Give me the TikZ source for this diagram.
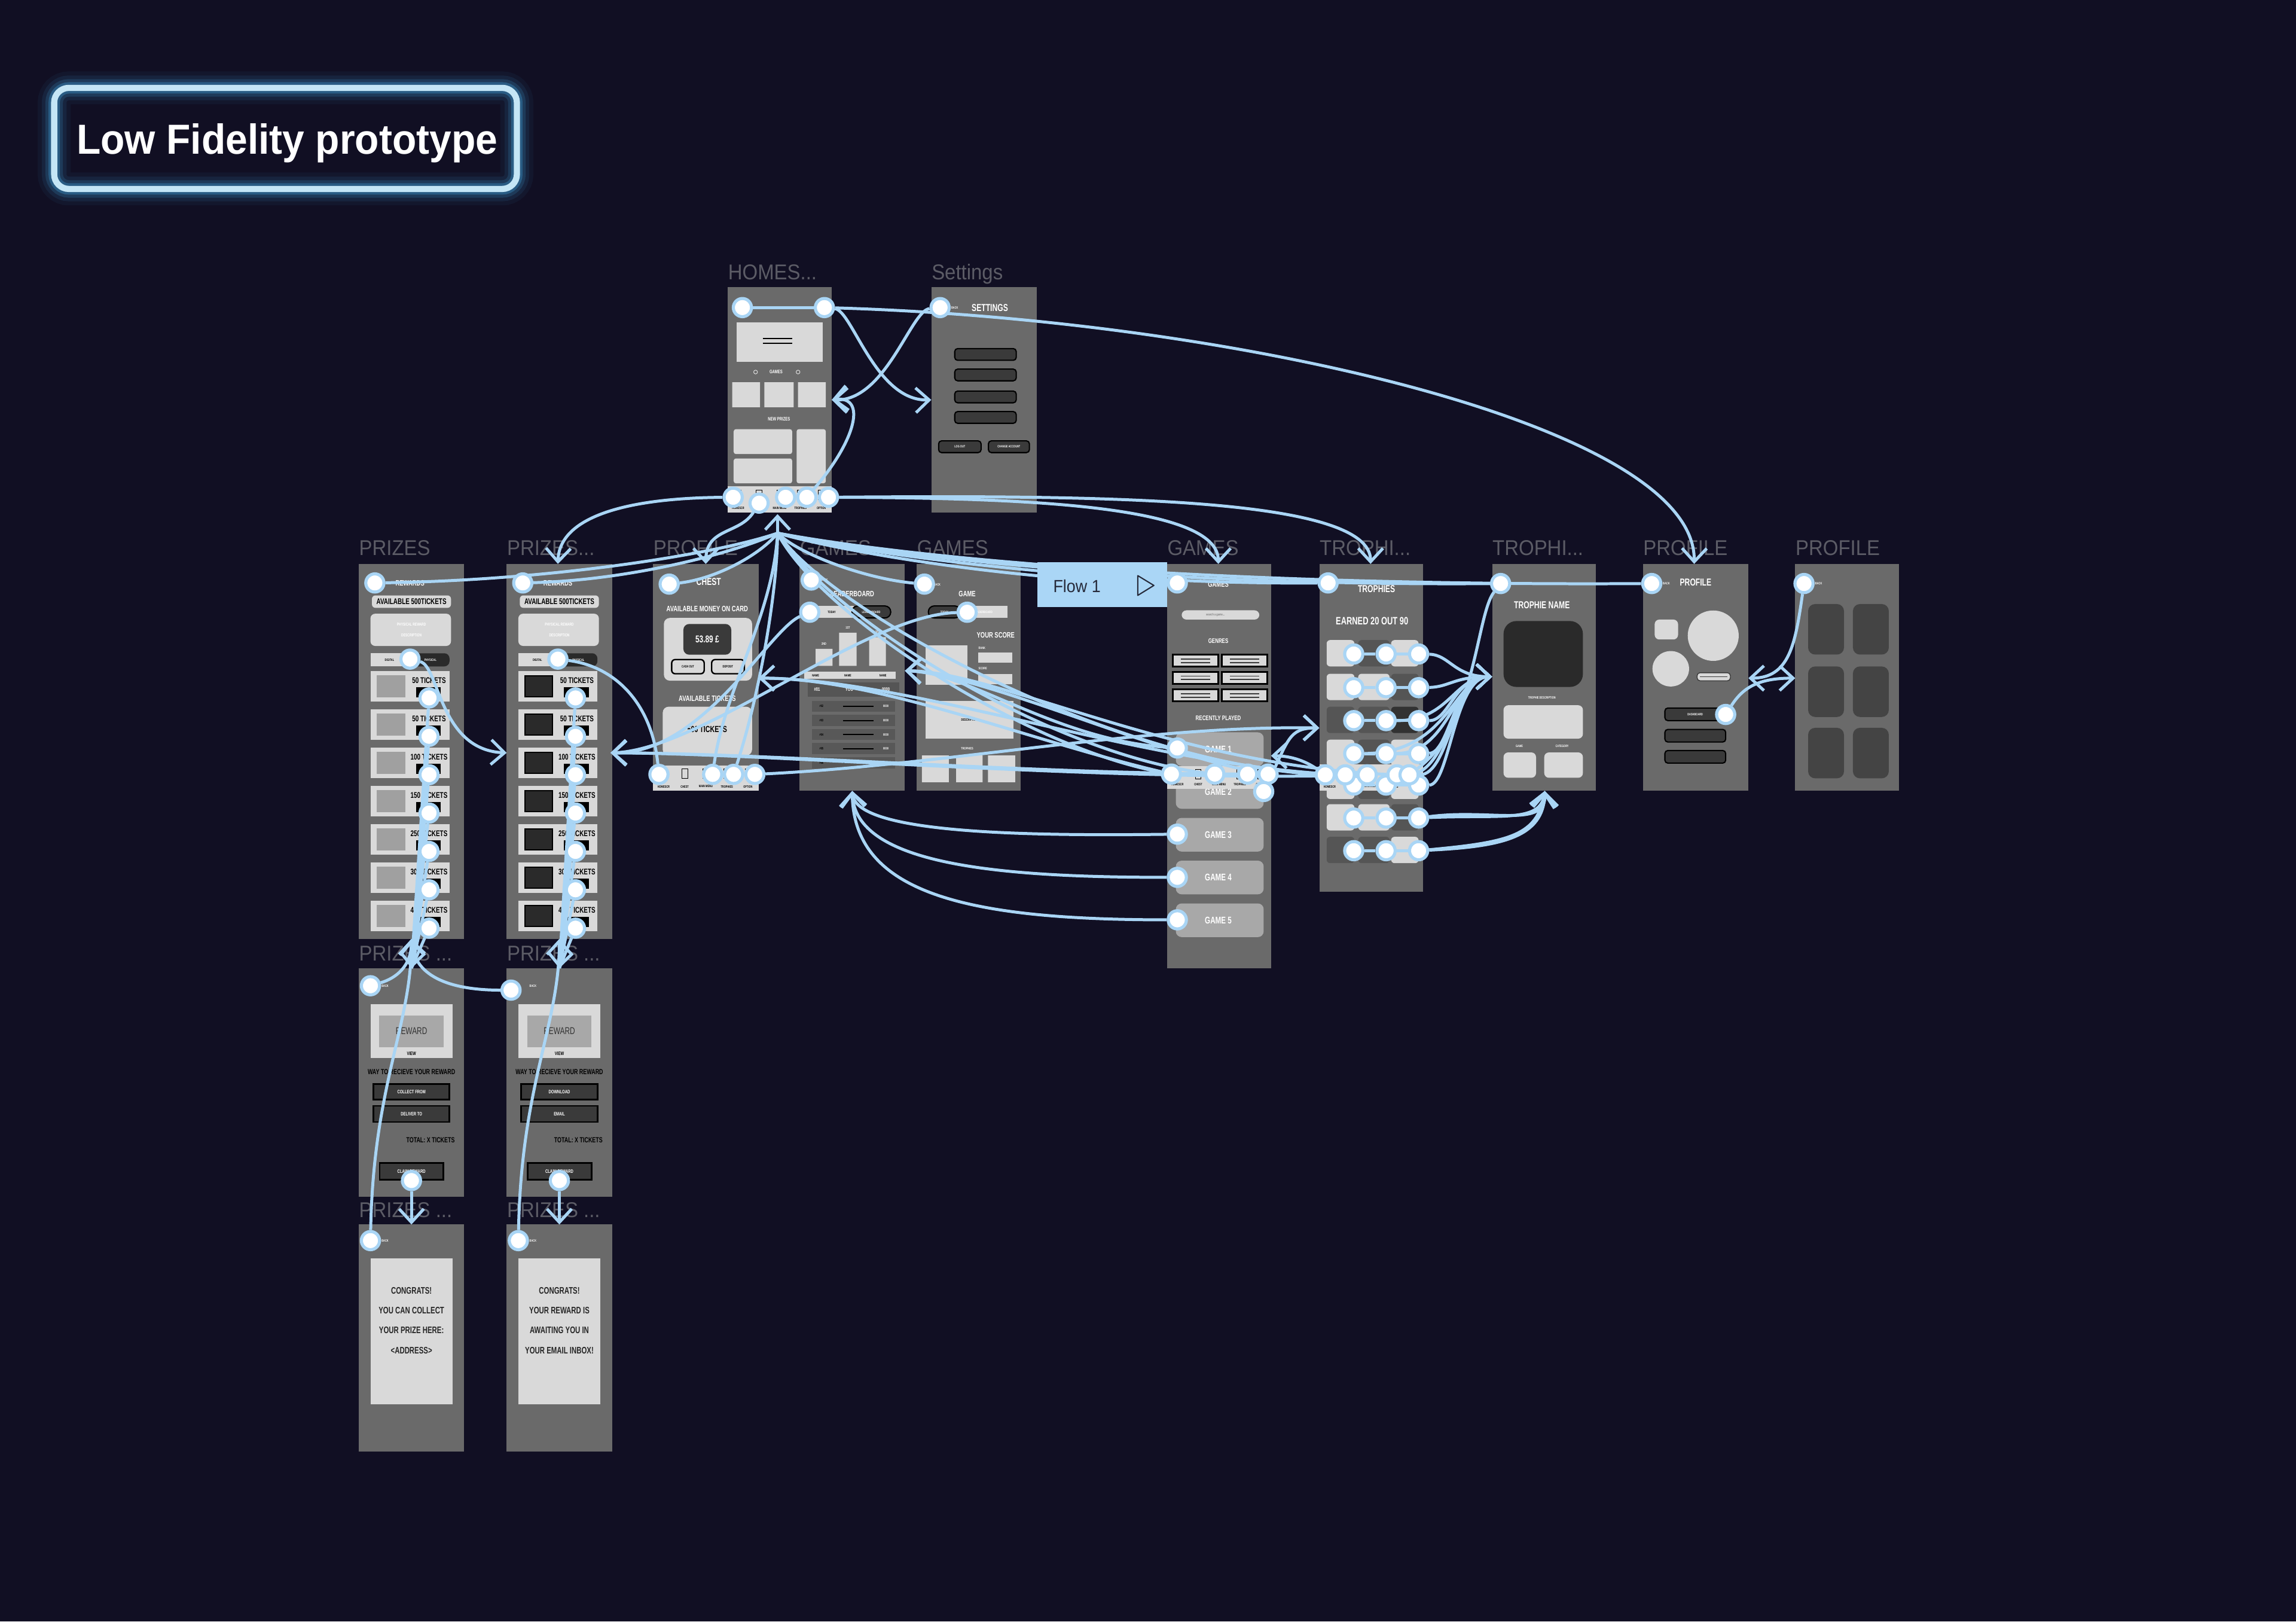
\documentclass[tikz,border=0pt]{standalone}
\usepackage{fontspec}
\setmainfont{Liberation Sans}
\newfontfamily\lblf[FakeStretch=0.92]{Liberation Sans}
\newfontfamily\cf[FakeStretch=0.72]{Liberation Sans}
\newfontfamily\titlef[FakeStretch=0.94]{Liberation Sans}
\usetikzlibrary{arrows.meta}
\pgfdeclarelayer{connl}
\pgfdeclarelayer{dotl}
\pgfdeclarelayer{topl}
\pgfsetlayers{main,connl,dotl,topl}
\definecolor{bg}{RGB}{17,15,35}
\definecolor{frameg}{RGB}{106,106,106}
\definecolor{lightg}{RGB}{217,217,217}
\definecolor{midg}{RGB}{168,168,168}
\definecolor{prsq}{RGB}{160,160,160}
\definecolor{darkg}{RGB}{58,58,58}
\definecolor{sqdark}{RGB}{42,42,42}
\definecolor{tiled}{RGB}{85,85,85}
\definecolor{tiledd}{RGB}{50,50,50}
\definecolor{rowg}{RGB}{88,88,88}
\definecolor{tileprof}{RGB}{68,68,68}
\definecolor{connc}{RGB}{169,213,245}
\definecolor{lblc}{RGB}{92,92,102}
\definecolor{ringc}{RGB}{196,230,246}
\definecolor{glowc}{RGB}{64,158,214}
\definecolor{flowc}{RGB}{170,214,246}
\definecolor{flowt}{RGB}{38,42,58}
\tikzset{
 frm/.style={fill=frameg},
 lbl/.style={anchor=base west, inner sep=0, text=lblc, font=\lblf\fontsize{10.4}{12}\selectfont},
 tA/.style={inner sep=0, text=white, font=\cf\bfseries\fontsize{4.9}{5.5}\selectfont},
 tB/.style={inner sep=0, text=white, font=\cf\bfseries\fontsize{3.8}{4.2}\selectfont},
 tC/.style={inner sep=0, text=black, font=\cf\bfseries\fontsize{4}{4.4}\selectfont},
 tD/.style={inner sep=0, text=white, font=\cf\bfseries\fontsize{1.6}{1.8}\selectfont},
 tE/.style={inner sep=0, text=white, font=\cf\bfseries\fontsize{2.4}{2.8}\selectfont},
 conn/.style={draw=connc, line width=1.45pt},
 arr/.style={conn, -{Straight Barb[length=6.5pt,width=12pt]}},
 dot/.style={circle, fill=white, draw=connc, line width=1.5pt, minimum size=3.1mm, inner sep=0pt},
 btn/.style={fill=darkg, draw=black, line width=0.6pt, rounded corners=0.5mm},
}
\newcommand\navbar[4]{%
  \fill[lightg] (#1,#2) rectangle (#3,#4);
  \foreach \k/\lab in {0.1/HOMESCR,0.3/CHEST,0.5/MAIN MENU,0.7/TROPHIES,0.9/OPTION}{%
    \pgfmathsetmacro\nx{#1+\k*(#3-#1)}
    \draw[black, line width=0.3pt] (\nx-2,#2+2.5) rectangle (\nx+2,#2+9);
    \node[tD, text=black] at (\nx,#4-3) {\lab};
  }%
}
\begin{document}
\begin{tikzpicture}[x=0.25mm,y=-0.25mm]
\useasboundingbox (0,0) rectangle (1568,1107);
\fill[bg] (0,0) rectangle (1568,1107);

% ---------- frame labels
\node[lbl] (lHomes) at (497,191) {HOMES...};
\node[lbl] (lSet) at (636,191) {Settings};
\node[lbl] (lPr1) at (245,379) {PRIZES};
\node[lbl] (lPr2) at (346,379) {PRIZES...};
\node[lbl] (lProf) at (446,379) {PROFILE};
\node[lbl] (lGam1) at (546,379) {GAMES};
\node[lbl] (lGam2) at (626,379) {GAMES};
\node[lbl] (lGam3) at (797,379) {GAMES};
\node[lbl] (lTro1) at (901,379) {TROPHI...};
\node[lbl] (lTro2) at (1019,379) {TROPHI...};
\node[lbl] (lPro2) at (1122,379) {PROFILE};
\node[lbl] (lPro3) at (1226,379) {PROFILE};
\node[lbl] (lPr3a) at (245,656) {PRIZES ...};
\node[lbl] (lPr3b) at (346,656) {PRIZES ...};
\node[lbl] (lPr4a) at (245,831) {PRIZES ...};
\node[lbl] (lPr4b) at (346,831) {PRIZES ...};

% ---------- HOMES
\fill[frm] (497,196) rectangle (568,350);
\fill[lightg] (503,220) rectangle (562,247);
\draw[black, line width=0.5pt] (521,231) -- (541,231) (521,234.5) -- (541,234.5);
\node[tE] (hGames) at (530,254) {GAMES};
\draw[lightg, line width=0.3pt] (516,254) circle (1.3) (545,254) circle (1.3);
\fill[lightg] (500,261) rectangle (519,278) (522,261) rectangle (542,278) (545,261) rectangle (564,278);
\node[tE] (hNew) at (532,286) {NEW PRIZES};
\fill[lightg, rounded corners=0.4mm] (501,293) rectangle (541,310);
\fill[lightg, rounded corners=0.4mm] (501,313) rectangle (541,330);
\fill[lightg, rounded corners=0.4mm] (544,293) rectangle (564,330);
\navbar{497}{332}{568}{350}

% ---------- Settings
\fill[frm] (636,196) rectangle (708,350);
\node[tA] (sTitle) at (676,210) {SETTINGS};
\node[tD] (sBack) at (652,210) {BACK};
\foreach \y in {238,252,267,281} \draw[btn] (652,\y) rectangle (694,\y+8);
\draw[btn] (641,301) rectangle (670,309);
\draw[btn] (675,301) rectangle (703,309);
\node[tD] (sLog) at (655.5,305) {LOG OUT};
\node[tD] (sChg) at (689,305) {CHANGE ACCOUNT};

% ---------- PRIZES (two columns)
\foreach \dx/\sqc/\sqd in {0/prsq/prsq,101/sqdark/black}{
  \fill[frm] (245+\dx,385) rectangle (317+\dx,641);
  \node[tB] at (280+\dx,398) {REWARDS};
  \fill[lightg, rounded corners=0.6mm] (254+\dx,406.5) rectangle (308+\dx,415);
  \node[tC] at (281+\dx,410.8) {AVAILABLE 500TICKETS};
  \fill[lightg, rounded corners=0.8mm] (253+\dx,419) rectangle (308+\dx,441);
  \node[tD, font=\cf\bfseries\fontsize{2}{2.4}\selectfont] at (281+\dx,426.5) {PHYSICAL REWARD};
  \node[tD, font=\cf\bfseries\fontsize{2}{2.4}\selectfont] at (281+\dx,433.5) {DESCRIPTION};
  \fill[lightg] (253+\dx,446) rectangle (281+\dx,455);
  \fill[sqdark, rounded corners=0.9mm] (279+\dx,446) rectangle (307+\dx,455);
  \node[tD, text=black] at (266+\dx,450.5) {DIGITAL};
  \node[tD] at (294+\dx,450.5) {PHYSICAL};
  \foreach \i/\tk in {0/50,1/50,2/100,3/150,4/250,5/300,6/400}{
    \pgfmathsetmacro\yy{458+26.15*\i}
    \fill[lightg] (253+\dx,\yy) rectangle (307+\dx,\yy+21);
    \draw[fill=\sqc, draw=\sqd, line width=0.5pt] (257.5+\dx,\yy+3.4) rectangle (276.4+\dx,\yy+17.7);
    \node[tC] at (293+\dx,\yy+6.5) {\tk\ TICKETS};
    \fill[black] (284+\dx,\yy+11) rectangle (301+\dx,\yy+18);
  }
}

% ---------- PRIZES row 3 and row 4
\foreach \dx/\la/\lb in {0/COLLECT FROM/DELIVER TO,101/DOWNLOAD/EMAIL}{
  \fill[frm] (245+\dx,661) rectangle (317+\dx,817);
  \node[tD] at (263+\dx,673) {BACK};
  \fill[lightg] (253+\dx,685.6) rectangle (309+\dx,722.3);
  \fill[midg] (259+\dx,693.3) rectangle (303+\dx,715);
  \node[inner sep=0, text=black!80, font=\cf\fontsize{4.8}{5}\selectfont] at (281+\dx,704) {REWARD};
  \node[tE, text=black] at (281+\dx,719.3) {VIEW};
  \node[tB, text=black, font=\cf\bfseries\fontsize{3.6}{4}\selectfont] at (281+\dx,732) {WAY TO RECIEVE YOUR REWARD};
  \draw[btn, rounded corners=0pt, line width=0.8pt] (255+\dx,740) rectangle (307+\dx,750.6);
  \draw[btn, rounded corners=0pt, line width=0.8pt] (255+\dx,755) rectangle (307+\dx,766);
  \node[tE] at (281+\dx,745.3) {\la};
  \node[tE] at (281+\dx,760.5) {\lb};
  \node[tB, text=black, font=\cf\bfseries\fontsize{3.6}{4}\selectfont] at (294+\dx,778.5) {TOTAL: X TICKETS};
  \draw[btn, rounded corners=0pt, line width=0.8pt] (259.3+\dx,794) rectangle (302.9+\dx,805.5);
  \node[tE] at (281+\dx,799.7) {CLAIM REWARD};
  \fill[frm] (245+\dx,836) rectangle (317+\dx,991);
  \node[tD] at (263+\dx,847) {BACK};
  \fill[lightg] (253+\dx,859) rectangle (309+\dx,958.7);
}
\tikzset{cg/.style={inner sep=0, text=black!85, font=\cf\bfseries\fontsize{4.6}{5}\selectfont}}
\node[cg] (c1a) at (281,881) {CONGRATS!};
\node[cg] (c1b) at (281,894.7) {YOU CAN COLLECT};
\node[cg] (c1c) at (281,908.3) {YOUR PRIZE HERE:};
\node[cg] (c1d) at (281,922) {<ADDRESS>};
\node[cg] (c2a) at (382,881) {CONGRATS!};
\node[cg] (c2b) at (382,894.7) {YOUR REWARD IS};
\node[cg] (c2c) at (382,908.3) {AWAITING YOU IN};
\node[cg] (c2d) at (382,922) {YOUR EMAIL INBOX!};

% ---------- wallet PROFILE
\fill[frm] (446,385) rectangle (518,540);
\node[tA] (wChest) at (484,397) {CHEST};
\node[tB] (wAvail) at (483,415.7) {AVAILABLE MONEY ON CARD};
\fill[lightg, rounded corners=1mm] (453.4,421.9) rectangle (513.6,464.7);
\fill[darkg, rounded corners=1mm] (466.7,426) rectangle (499.4,447);
\node[tA, font=\cf\bfseries\fontsize{4.8}{5}\selectfont] (wMoney) at (483,436.5) {53.89 £};
\draw[fill=lightg, draw=black, line width=0.7pt, rounded corners=0.6mm] (458.7,450.3) rectangle (480.9,460);
\draw[fill=lightg, draw=black, line width=0.7pt, rounded corners=0.6mm] (486,450.3) rectangle (508.3,460);
\node[tD, text=black] at (469.8,455.2) {CASH OUT};
\node[tD, text=black] at (497.1,455.2) {DEPOSIT};
\node[tB] (wTick) at (483,477) {AVAILABLE TICKETS};
\fill[lightg, rounded corners=1mm] (452.6,482.5) rectangle (513.6,515.8);
\node[tC, font=\cf\bfseries\fontsize{4.3}{4.6}\selectfont] (w500) at (483,498) {500 TICKETS};
\navbar{446}{522.6}{518}{540}

% ---------- leaderboard
\fill[frm] (546,385) rectangle (618,540);
\node[tD] at (563,396) {BACK};
\node[tB] (lbT) at (582,405.5) {LEADERBOARD};
\fill[lightg] (554,413.7) rectangle (583,421.9);
\draw[fill=darkg, draw=black, line width=0.6pt, rounded corners=1mm] (581.8,413.7) rectangle (608.3,421.9);
\node[tD, text=black] at (568,417.8) {TODAY};
\node[tD] at (595,417.8) {LEADERBOARD};
\fill[lightg] (557,443) rectangle (568.5,454.6) (573,432) rectangle (585,454.6) (593.6,435) rectangle (605,454.6);
\node[tD] at (562.7,439.5) {2ND};
\node[tD] at (579,428.5) {1ST};
\node[tD] at (599.3,431.5) {3RD};
\fill[lightg] (549,458.7) rectangle (611.8,463.6);
\node[tD, text=black] at (557,461.2) {NAME};
\node[tD, text=black] at (579,461.2) {NAME};
\node[tD, text=black] at (603,461.2) {NAME};
\fill[tiled] (551.6,466) rectangle (614,475.7);
\node[tE] at (558,470.8) {\#01};
\node[tE] at (580,470.8) {YOU};
\node[tE] at (605,470.8) {0000};
\foreach \i/\n in {0/02,1/03,2/04,3/05,4/06}{
  \pgfmathsetmacro\yy{478.4+9.65*\i}
  \fill[rowg] (554.6,\yy) rectangle (611.3,\yy+7.6);
  \node[tD, text=black] at (561,\yy+3.8) {\#\n};
  \draw[black, line width=0.6pt] (575.6,\yy+3.8) -- (596.5,\yy+3.8);
  \node[tD] at (605,\yy+3.8) {0000};
}

% ---------- game
\fill[frm] (626,385) rectangle (697,540);
\node[tD] at (640,399) {BACK};
\node[tB] (gmT) at (660.5,405.5) {GAME};
\fill[lightg] (655,413.7) rectangle (688,421.9);
\draw[fill=darkg, draw=black, line width=0.6pt, rounded corners=1mm] (634,413.7) rectangle (656,421.9);
\node[tD] at (645,417.8) {TODAY};
\node[tD] at (671.5,417.8) {LEADERBOARD};
\node[tB] (gmScore) at (680,433.5) {YOUR SCORE};
\fill[lightg] (631.9,440.6) rectangle (660.5,467.5);
\node[tD, anchor=west] at (668,442.5) {RANK};
\fill[lightg] (668,445.3) rectangle (691.5,452.4);
\node[tD, anchor=west] at (668,456.5) {SCORE};
\fill[lightg] (668,460) rectangle (691.5,467);
\fill[lightg] (631.9,478.4) rectangle (692,504.3);
\node[tD, text=black] at (662,491.3) {DESCRIPTION};
\node[tD] at (660.5,511) {TROPHIES};
\fill[lightg] (629.6,515.8) rectangle (648,534) (653,515.8) rectangle (671,534) (674.7,515.8) rectangle (693.3,534);

% ---------- games list
\fill[frm] (797,385) rectangle (868,661);
\node[tB] (glT) at (832,399) {GAMES};
\fill[lightg, rounded corners=0.8mm] (807,416.7) rectangle (860,423);
\node[tD, text=gray] at (830,419.9) {search a game...};
\node[tB, font=\cf\bfseries\fontsize{3.2}{3.6}\selectfont] (glGen) at (832,437.5) {GENRES};
\foreach \xx in {800.4,834}{\foreach \yy in {446.3,458,470}{
  \fill[black] (\xx,\yy) rectangle (\xx+32,\yy+9.5);
  \fill[lightg] (\xx+1.2,\yy+1.2) rectangle (\xx+30.8,\yy+8.3);
  \draw[darkg, line width=0.5pt] (\xx+6,\yy+3.6) -- (\xx+26,\yy+3.6) (\xx+6,\yy+6) -- (\xx+26,\yy+6);
}}
\node[tB, font=\cf\bfseries\fontsize{3.2}{3.6}\selectfont] (glRec) at (832,490.3) {RECENTLY PLAYED};
\foreach \i in {1,...,5}{
  \pgfmathsetmacro\yy{500+29.2*(\i-1)}
  \fill[midg, rounded corners=1mm] (803,\yy) rectangle (863,\yy+23);
  \node[tA, font=\cf\bfseries\fontsize{4.7}{5}\selectfont] at (832,\yy+11.5) {GAME \i};
}
\navbar{797}{523}{868}{538.5}

% ---------- trophies
\fill[frm] (901,385) rectangle (972,609);
\node[tA] (trT) at (940,402) {TROPHIES};
\node[tA, font=\cf\bfseries\fontsize{5.2}{5.6}\selectfont] (trE) at (937,424) {EARNED 20 OUT 90};
\foreach \yy/\ca/\cb/\cc in {437/lightg/tiled/lightg,460/lightg/lightg/tiled,482.5/tiled/tiled/tiledd,505/lightg/tiled/lightg,527.5/lightg/tiled/lightg,549/lightg/lightg/tiled,571.3/tiled/tiled/lightg}{
  \fill[\ca, rounded corners=0.6mm] (906,\yy) rectangle (925,\yy+18);
  \fill[\cb, rounded corners=0.6mm] (927.5,\yy) rectangle (949,\yy+18);
  \fill[\cc, rounded corners=0.6mm] (950,\yy) rectangle (968.8,\yy+18);
}
\navbar{901}{522}{972}{540}

% ---------- trophie name
\fill[frm] (1019,385) rectangle (1090,540);
\node[tA] (tnT) at (1053,413) {TROPHIE NAME};
\fill[sqdark, rounded corners=2.2mm] (1026.8,424) rectangle (1081,469);
\node[tD] at (1053,476.5) {TROPHIE DESCRIPTION};
\fill[lightg, rounded corners=0.8mm] (1026.8,481.5) rectangle (1081,504.3);
\node[tD] at (1037.6,509.6) {GAME};
\node[tD] at (1066.8,509.6) {CATEGORY};
\fill[lightg, rounded corners=0.8mm] (1026.8,513.7) rectangle (1049,531);
\fill[lightg, rounded corners=0.8mm] (1054.6,513.7) rectangle (1081,531);

% ---------- profile
\fill[frm] (1122,385) rectangle (1194,540);
\node[tD] at (1138,398.4) {BACK};
\node[tA] (pfT) at (1158,397.6) {PROFILE};
\fill[lightg, rounded corners=0.8mm] (1130,423) rectangle (1146,436.6);
\fill[lightg] (1170,434) ellipse (17.4 and 17.2);
\fill[lightg] (1141,456.6) ellipse (12.5 and 12.1);
\draw[fill=lightg, draw=darkg, line width=0.4pt, rounded corners=0.5mm] (1159,459.3) rectangle (1181.7,464.8);
\draw[darkg, line width=0.4pt] (1161,462) -- (1179.7,462);
\draw[btn] (1137,483.4) rectangle (1178.5,492);
\draw[btn] (1137,498) rectangle (1178.5,506.6);
\draw[btn] (1137,512.4) rectangle (1178.5,521);
\node[tD] (pfDash) at (1157.7,487.7) {DASHBOARD};

% ---------- profile 2
\fill[frm] (1226,385) rectangle (1297,540);
\node[tD] at (1242,398.4) {BACK};
\foreach \xx in {1234.8,1265.4}{\foreach \yy in {412.4,455,496.9}{
  \fill[tileprof, rounded corners=1.2mm] (\xx,\yy) rectangle (\xx+24.5,\yy+34.5);
}}

% ---------- hotspot dots
\begin{pgfonlayer}{dotl}
\node[dot] (hA) at (507,210) {};
\node[dot] (hB) at (563,210) {};
\node[dot] (sA) at (642,210) {};
\node[dot] (hN1) at (500.7,339.5) {};
\node[dot] (hN2) at (518.4,343.5) {};
\node[dot] (hN3) at (536.5,339.5) {};
\node[dot] (hN4) at (551,339.5) {};
\node[dot] (hN5) at (565.8,339.5) {};
\node[dot] (p1top) at (256,398) {};
\node[dot] (p2top) at (357,398) {};
\node[dot] (p1tog) at (280,450) {};
\node[dot] (p2tog) at (381,450) {};
\foreach \i in {0,...,6}{
  \pgfmathsetmacro\yy{476.5+26.2*\i}
  \node[dot] (p1i\i) at (293,\yy) {};
  \node[dot] (p2i\i) at (393,\yy) {};
}
\node[dot] (r3aback) at (253,673) {};
\node[dot] (r3aclaim) at (281,806) {};
\node[dot] (r3bback) at (349,676) {};
\node[dot] (r3bclaim) at (382,806) {};
\node[dot] (r4aback) at (253,847) {};
\node[dot] (r4bback) at (354,847) {};
\node[dot] (wtop) at (457,398.8) {};
\node[dot] (wn1) at (450,528.7) {};
\node[dot] (wn2) at (486.7,528.7) {};
\node[dot] (wn3) at (501,528.7) {};
\node[dot] (wn4) at (515.5,528.7) {};
\node[dot] (ltop) at (554,396) {};
\node[dot] (ltog) at (553,418) {};
\node[dot] (gtop) at (631.3,398.8) {};
\node[dot] (gtog) at (660.5,418) {};
\node[dot] (gltop) at (804,398) {};
\node[dot] (g1) at (804,510.7) {};
\node[dot] (g3) at (804,569.5) {};
\node[dot] (g4) at (804,599) {};
\node[dot] (g5) at (804,628) {};
\node[dot] (gn1) at (800,528.5) {};
\node[dot] (gn2) at (829.6,528.5) {};
\node[dot] (gn3) at (852,528.5) {};
\node[dot] (gn4) at (866,528.5) {};
\node[dot] (gn5) at (863,540.4) {};
\node[dot] (ttop) at (907,398) {};
\foreach \r/\yy in {1/446.5,2/469.5,3/492,4/514.5,5/536,6/558.5,7/580.8}{
  \node[dot] (t\r-1) at (924.5,\yy) {};
  \node[dot] (t\r-2) at (946.6,\yy) {};
  \node[dot] (t\r-3) at (968.8,\yy) {};
}
\node[dot] (tn1) at (905,529) {};
\node[dot] (tn2) at (918.7,529) {};
\node[dot] (tn3) at (933.7,529) {};
\node[dot] (tn4) at (954,529) {};
\node[dot] (tn5) at (962.3,529) {};
\node[dot] (tntop) at (1024.8,398.4) {};
\node[dot] (pftop) at (1128,398.4) {};
\node[dot] (pfbtn) at (1178.5,487.8) {};
\node[dot] (pf2top) at (1232,398.4) {};
\end{pgfonlayer}

% ---------- connectors
\begin{pgfonlayer}{connl}
\coordinate (aSetL) at (636,273);
\coordinate (aHomR) at (568,273);
\coordinate (hubc) at (531,364);
\coordinate (aHub) at (531,351);
\coordinate (aP2top) at (381,385);
\coordinate (aWtop) at (482,385);
\coordinate (aGLtop) at (832,385);
\coordinate (aTtop) at (936,385);
\coordinate (aPFtop) at (1157,385);
\coordinate (aP2R) at (417,514);
\coordinate (aP2L) at (346,514);
\coordinate (aWR) at (518,463);
\coordinate (aLR) at (618,458);
\coordinate (aGLR) at (868,516);
\coordinate (aTL) at (901,497);
\coordinate (aTNL) at (1019,462);
\coordinate (aTNB) at (1055,540);
\coordinate (aLB) at (582,540);
\coordinate (aPF1R) at (1194,463);
\coordinate (aPF2L) at (1226,463);
\coordinate (aR3a) at (281,661);
\coordinate (aP1B) at (281,641);
\coordinate (aR3b) at (382,661);
\coordinate (aP2B) at (382,641);
\coordinate (aR4a) at (281,836);
\coordinate (aR4b) at (382,836);

% top
\draw[conn] (hA) -- (hB);
\draw[arr] (hB) .. controls (840,218) and (1158,290) .. (aPFtop);
\draw[arr] (hB) .. controls (582,212) and (598,274) .. (aSetL);
\draw[arr] (sA) .. controls (622,212) and (605,274) .. (aHomR);
\draw[arr] (hN4) .. controls (585,300) and (592,270) .. (aHomR);
\draw[arr] (hN1) .. controls (430,340) and (382,352) .. (aP2top);
\draw[arr] (hN2) .. controls (505,365) and (482,360) .. (aWtop);
\draw[arr] (hN5) .. controls (700,340) and (832,345) .. (aGLtop);
\draw[arr] (hN5) .. controls (760,338) and (936,340) .. (aTtop);

% hub fan back to HOMES
\draw[conn] (p1top) .. controls (380,396) and (490,378) .. (hubc);
\draw[conn] (p2top) .. controls (430,396) and (500,378) .. (hubc);
\draw[conn] (wtop) .. controls (490,395) and (520,378) .. (hubc);
\draw[conn] (ltop) .. controls (548,385) and (535,372) .. (hubc);
\draw[conn] (gtop) .. controls (590,395) and (545,378) .. (hubc);
\draw[conn] (gltop) .. controls (700,397) and (580,378) .. (hubc);
\draw[conn] (ttop) .. controls (750,399) and (600,380) .. (hubc);
\draw[conn] (tntop) .. controls (800,400) and (620,382) .. (hubc);
\draw[conn] (pftop) .. controls (850,400) and (640,384) .. (hubc);
\draw[conn] (wn3) .. controls (520,470) and (531,400) .. (hubc);
\draw[conn] (wn2) .. controls (495,470) and (528,420) .. (hubc);
\draw[conn] (gn1) .. controls (700,510) and (560,420) .. (hubc);
\draw[conn] (gn2) .. controls (720,515) and (570,425) .. (hubc);
\draw[conn] (tn1) .. controls (760,520) and (570,420) .. (hubc);
\draw[arr] (hubc) -- (aHub);

% prizes
\draw[arr] (p1tog) .. controls (300,455) and (300,512) .. (aP2L);
\draw[conn] (p2tog) .. controls (420,455) and (445,480) .. (wn1);
\foreach \i in {1,...,6}{
  \draw[conn] (p1i\i) -- (aR3a);
  \draw[conn] (p2i\i) -- (aR3b);
}
\draw[arr] (p1i0) -- (aR3a);
\draw[arr] (p2i0) -- (aR3b);
\draw[arr] (r3aback) .. controls (270,668) and (281,660) .. (aP1B);
\draw[arr] (r4aback) .. controls (255,740) and (281,700) .. (aP1B);
\draw[arr] (r3bback) .. controls (310,676) and (283,668) .. (aP1B);
\draw[arr] (r4bback) .. controls (356,740) and (382,700) .. (aP2B);
\draw[arr] (r3aclaim) -- (aR4a);
\draw[arr] (r3bclaim) -- (aR4b);

% middle
\draw[arr] (ltog) .. controls (525,430) and (480,515) .. (aP2R);
\draw[arr] (gtog) .. controls (590,420) and (480,512) .. (aP2R);
\draw[arr] (gn3) .. controls (700,528) and (520,514) .. (aP2R);
\draw[arr] (tn3) .. controls (760,534) and (520,514) .. (aP2R);
\draw[arr] (gn1) .. controls (700,505) and (600,463) .. (aWR);
\draw[arr] (tn2) .. controls (780,522) and (620,463) .. (aWR);
\draw[arr] (g1) .. controls (720,505) and (660,458) .. (aLR);
\draw[arr] (tn4) .. controls (800,522) and (680,458) .. (aLR);
\draw[arr] (gn4) .. controls (790,515) and (670,460) .. (aLR);
\draw[arr] (wn4) .. controls (650,522) and (780,495) .. (aTL);
\draw[arr] (gn5) .. controls (880,505) and (880,497) .. (aTL);
\draw[arr] (tn1) .. controls (895,522) and (885,516) .. (aGLR);
\draw[arr] (g3) .. controls (690,571) and (585,568) .. (aLB);
\draw[arr] (g4) .. controls (680,599) and (584,590) .. (aLB);
\draw[arr] (g5) .. controls (660,628) and (583,610) .. (aLB);

% trophies
\foreach \r in {1,...,7} \draw[conn] (t\r-1) -- (t\r-2) -- (t\r-3);
\foreach \s/\ya in {t1-3/447,t2-3/469,t3-3/492,t4-3/514,t3-2/492,t4-2/514,t4-1/514,tn5/529,t5-3/536,tn4/529}{
  \draw[arr] (\s) .. controls (990,\ya) and (993,462) .. (aTNL);
}
\draw[arr] (t6-3) .. controls (1025,556) and (1052,562) .. (aTNB);
\draw[arr] (t6-3) .. controls (1018,552) and (1056,566) .. (aTNB);
\draw[arr] (t7-3) .. controls (1025,578) and (1054,572) .. (aTNB);
\draw[arr] (t7-3) .. controls (1032,575) and (1050,570) .. (aTNB);
\draw[conn] (tntop) .. controls (1008,420) and (1008,495) .. (tn5);

% profile
\draw[arr] (pfbtn) .. controls (1190,470) and (1200,463) .. (aPF2L);
\draw[arr] (pf2top) .. controls (1226,440) and (1222,463) .. (aPF1R);
\end{pgfonlayer}

% ---------- top layer: flow badge and title
\begin{pgfonlayer}{topl}
\fill[flowc] (708.5,384) rectangle (797,414.5);
\node[anchor=west, inner sep=0, text=flowt, font=\lblf\fontsize{8.5}{9}\selectfont] (flowtxt) at (719,400) {Flow 1};
\draw[flowt, line width=0.6pt, line join=round] (777,393) -- (777,406.5) -- (788,399.7) -- cycle;

\foreach \w/\o in {16/0.06,12/0.1,8.5/0.18,5.5/0.35}{
  \draw[glowc, line width=\w pt, opacity=\o, rounded corners=2.5mm] (37,60) rectangle (353,129);
}
\draw[ringc, line width=3pt, rounded corners=2.5mm] (37,60) rectangle (353,129);
\node[anchor=base west, inner sep=0, text=white, font=\titlef\bfseries\fontsize{20.4}{24}\selectfont] (title) at (52,105) {Low Fidelity prototype};
\end{pgfonlayer}
\end{tikzpicture}
\end{document}
